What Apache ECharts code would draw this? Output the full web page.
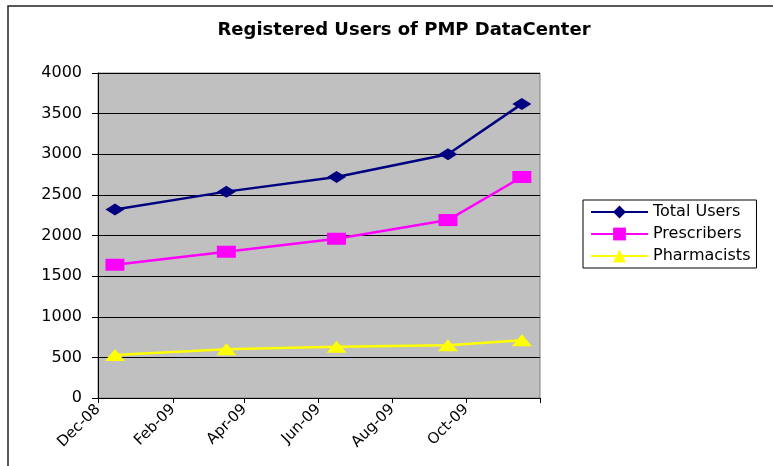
<!DOCTYPE html>
<html>
<head>
<meta charset="utf-8">
<script src="https://cdn.jsdelivr.net/npm/echarts@6/dist/echarts.min.js"></script>
<style>
html,body{margin:0;padding:0;background:#fff;}
#chart{width:773px;height:466px;}
</style>
</head>
<body>
<div id="chart"></div>
<script>
var pointDates = ["2008-12-15", "2009-03-17", "2009-06-16", "2009-09-16", "2009-11-16"];
var totalUsers = [2320, 2540, 2720, 3000, 3620];
var prescribers = [1640, 1800, 1960, 2190, 2720];
var pharmacists = [530, 600, 630, 650, 710];
var tickDates = ["2008-12-01", "2009-02-01", "2009-04-01", "2009-06-01", "2009-08-01", "2009-10-01", "2009-12-01"];
var tickLabels = ["Dec-08", "Feb-09", "Apr-09", "Jun-09", "Aug-09", "Oct-09", ""];

// convert dates to day numbers counted from the first tick date
function dayNum(s) {
  var p = s.split("-");
  var t = Date.UTC(+p[0], +p[1] - 1, +p[2]);
  var p0 = tickDates[0].split("-");
  var t0 = Date.UTC(+p0[0], +p0[1] - 1, +p0[2]);
  return Math.round((t - t0) / 86400000);
}
var tickDays = tickDates.map(dayNum);
function pairs(vals) {
  return vals.map(function (v, i) { return [dayNum(pointDates[i]), v]; });
}
var FONT = "DejaVu Sans";

var chart = echarts.init(document.getElementById("chart"));
chart.setOption({
  animation: false,
  backgroundColor: "#fff",
  title: {
    text: "Registered Users of PMP DataCenter",
    left: 399, textAlign: "center", top: 16,
    textStyle: { fontFamily: FONT, fontSize: 18, fontWeight: "bold", color: "#000" }
  },
  graphic: [{
    type: "rect", z: -1,
    shape: { x: 8, y: 6, width: 800, height: 500 },
    style: { fill: null, stroke: "#222", lineWidth: 1.5 }
  }],
  legend: {
    orient: "vertical", left: 583, top: 200,
    backgroundColor: "#fff", borderColor: "#000", borderWidth: 1,
    padding: [4, 6, 4, 7], itemGap: 6, itemWidth: 57, itemHeight: 16,
    textStyle: { fontFamily: FONT, fontSize: 16, color: "#000" },
    data: ["Total Users", "Prescribers", "Pharmacists"]
  },
  grid: {
    left: 98, right: 233, top: 73, bottom: 68,
    show: true, backgroundColor: "#C0C0C0", borderColor: "#808080", borderWidth: 1
  },
  xAxis: {
    type: "value",
    min: tickDays[0], max: tickDays[tickDays.length - 1],
    axisLine: { show: true, onZero: false, lineStyle: { color: "#000", width: 1 } },
    axisTick: { show: true, length: 5, customValues: tickDays, lineStyle: { color: "#000" } },
    splitLine: { show: false },
    axisLabel: {
      customValues: tickDays.slice(0, tickDays.length - 1),
      rotate: 45, margin: 9, color: "#000",
      fontFamily: FONT, fontSize: 15,
      formatter: function (v) {
        var i = tickDays.indexOf(v);
        return i >= 0 ? tickLabels[i] : "";
      }
    }
  },
  yAxis: {
    type: "value", min: 0, max: 4000, interval: 500,
    axisLine: { show: true, lineStyle: { color: "#000", width: 1 } },
    axisTick: { show: true, length: 6, lineStyle: { color: "#000" } },
    splitLine: { show: true, lineStyle: { color: "#000", width: 1 } },
    axisLabel: {
      color: "#000", fontFamily: FONT, fontSize: 16, margin: 16,
      formatter: function (v) { return String(v); }
    }
  },
  series: [
    {
      name: "Total Users", type: "line", data: pairs(totalUsers),
      symbol: "diamond", symbolSize: [19, 12],
      lineStyle: { color: "#000080", width: 2.5 },
      itemStyle: { color: "#000080" }
    },
    {
      name: "Prescribers", type: "line", data: pairs(prescribers),
      symbol: "rect", symbolSize: [19, 12],
      lineStyle: { color: "#FF00FF", width: 2.5 },
      itemStyle: { color: "#FF00FF" }
    },
    {
      name: "Pharmacists", type: "line", data: pairs(pharmacists),
      symbol: "triangle", symbolSize: [20, 12],
      lineStyle: { color: "#FFFF00", width: 2.5 },
      itemStyle: { color: "#FFFF00" }
    }
  ]
});
</script>
</body>
</html>
